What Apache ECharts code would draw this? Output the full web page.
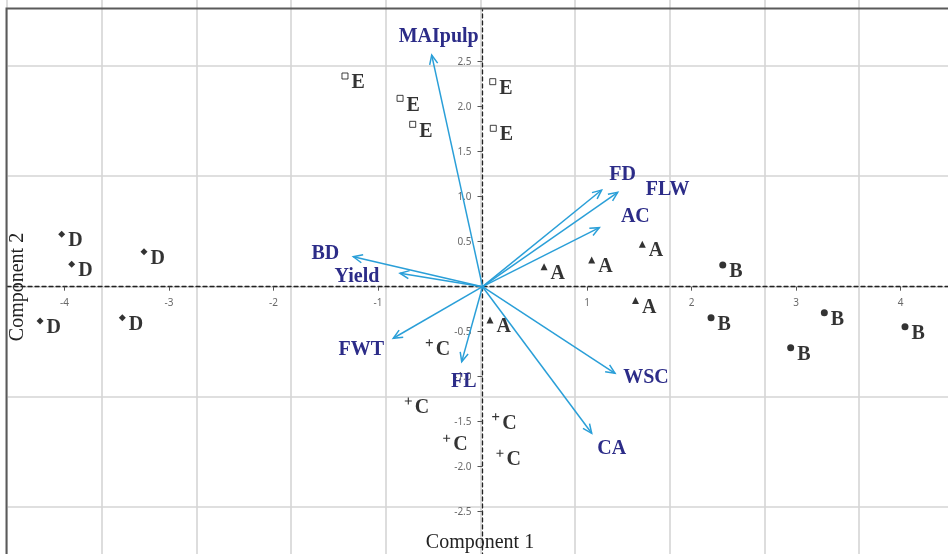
<!DOCTYPE html>
<html>
<head>
<meta charset="utf-8">
<script src="https://cdn.jsdelivr.net/npm/echarts@6/dist/echarts.min.js"></script>
<style>
  html, body { margin: 0; padding: 0; background: #ffffff; }
  #chart { width: 948px; height: 554px; }
</style>
</head>
<body>
<div id="chart"></div>
<script>
// PCA scores per group: [Component 1, Component 2]
const scoresA = [[0.589, 0.222], [1.045, 0.297], [1.529, 0.471], [0.072, -0.370], [1.464, -0.153]];
const scoresB = [[2.299, 0.241], [2.187, -0.344], [3.271, -0.289], [2.949, -0.678], [4.043, -0.444]];
const scoresC = [[-0.509, -0.622], [-0.710, -1.270], [0.126, -1.444], [-0.343, -1.684], [0.167, -1.851]];
const scoresD = [[-4.027, 0.582], [-3.931, 0.249], [-3.239, 0.389], [-4.234, -0.381], [-3.447, -0.344]];
const scoresE = [[-1.316, 2.341], [-0.789, 2.093], [-0.668, 1.804], [0.098, 2.278], [0.103, 1.760]];

// Variable loadings (arrow tips)
const loadingNames = ['MAIpulp', 'BD', 'Yield', 'FD', 'FLW', 'AC', 'FWT', 'FL', 'WSC', 'CA'];
const loadingX = [-0.486, -1.236, -0.790, 1.140, 1.294, 1.118, -0.854, -0.199, 1.268, 1.045];
const loadingY = [2.574, 0.333, 0.150, 1.074, 1.049, 0.656, -0.573, -0.833, -0.962, -1.629];

// Tick values shown on the zero-crossing axes
const xTicks = [-4, -3, -2, -1, 1, 2, 3, 4];
const yTicks = [-2.5, -2, -1.5, -1, -0.5, 0.5, 1, 1.5, 2, 2.5];

// ---- styling ----
const ARROW_COLOR = '#2a9fd8';
const VAR_COLOR = '#2c2c88';
const SERIF = '"Liberation Serif", "DejaVu Serif", serif';
const TICK_FONT = '"Noto Sans", "DejaVu Sans", sans-serif';

// where each variable name sits relative to its arrow tip (px)
const varLabelOffset = {
  MAIpulp: [7, -18], BD: [-28, -3], Yield: [-43, 4], FD: [21, -15], FLW: [50, -2],
  AC: [36, -11], FWT: [-32, 12], FL: [2, 20], WSC: [31, 5], CA: [20, 16]
};

const loadingData = loadingNames.map((n, i) => [loadingX[i], loadingY[i]]);

function renderLoading(params, api) {
  const name = loadingNames[params.dataIndex];
  const o = api.coord([0, 0]);
  const t = api.coord([api.value(0), api.value(1)]);
  const ang = Math.atan2(t[1] - o[1], t[0] - o[0]);
  const L = 10, a = 0.42;
  const h1 = [t[0] - L * Math.cos(ang - a), t[1] - L * Math.sin(ang - a)];
  const h2 = [t[0] - L * Math.cos(ang + a), t[1] - L * Math.sin(ang + a)];
  const off = varLabelOffset[name];
  return {
    type: 'group',
    children: [
      { type: 'line', shape: { x1: o[0], y1: o[1], x2: t[0], y2: t[1] },
        style: { stroke: ARROW_COLOR, lineWidth: 1.5 } },
      { type: 'polyline', shape: { points: [h1, t, h2] },
        style: { stroke: ARROW_COLOR, lineWidth: 1.5, fill: null } },
      { type: 'text', x: t[0] + off[0], y: t[1] + off[1],
        style: { text: name, fill: VAR_COLOR, font: 'bold 20px ' + SERIF,
                 align: 'center', verticalAlign: 'middle',
                 textAlign: 'center', textVerticalAlign: 'middle' } }
    ]
  };
}

const plusPath = 'path://M4.2,0H5.8V4.2H10V5.8H5.8V10H4.2V5.8H0V4.2H4.2Z';

function groupSeries(letter, data, symbol, size, itemStyle) {
  return {
    type: 'scatter', name: letter, xAxisIndex: 1, yAxisIndex: 1,
    data: data, symbol: symbol, symbolSize: size,
    itemStyle: itemStyle || { color: '#000' },
    label: {
      show: true, formatter: letter, position: 'right', distance: 3, offset: [0, 7],
      color: '#000', fontFamily: SERIF, fontWeight: 'bold', fontSize: 20
    },
    emphasis: { disabled: true },
    z: 4
  };
}

// tick labels sitting beside the dashed zero axes
function tickLabelSeries(data, labelOpt) {
  return {
    type: 'scatter', xAxisIndex: 1, yAxisIndex: 1, silent: true,
    data: data, symbolSize: 0.01, itemStyle: { color: 'rgba(0,0,0,0)' },
    label: Object.assign({ show: true, fontSize: 10, color: '#444', fontFamily: TICK_FONT }, labelOpt),
    emphasis: { disabled: true }, z: 2
  };
}

const chart = echarts.init(document.getElementById('chart'), null, { renderer: 'canvas' });

chart.setOption({
  animation: false,
  backgroundColor: '#ffffff',
  grid: [
    // background reference grid
    { left: 7, top: -44.5, width: 946.6, height: 661.5, containLabel: false, outerBoundsMode: 'none' },
    // biplot coordinate system
    { left: 7.03, top: 9.5, width: 950.95, height: 554.4, containLabel: false, outerBoundsMode: 'none' }
  ],
  xAxis: [
    { type: 'value', gridIndex: 0, min: 0, max: 10, interval: 1,
      axisLine: { show: false }, axisTick: { show: false }, axisLabel: { show: false },
      splitLine: { show: true, lineStyle: { color: '#d5d5d5', width: 1.6 } } },
    { type: 'value', gridIndex: 1, min: -4.55, max: 4.55,
      axisLine: { show: true, onZero: true, lineStyle: { color: '#222', width: 1.3, type: [4, 3] } },
      axisTick: { show: true, customValues: xTicks, length: 4, lineStyle: { color: '#555', width: 1 } },
      axisLabel: { show: false },
      splitLine: { show: false } }
  ],
  yAxis: [
    { type: 'value', gridIndex: 0, min: 0, max: 6, interval: 1,
      axisLine: { show: false }, axisTick: { show: false }, axisLabel: { show: false },
      splitLine: { show: true, lineStyle: { color: '#d5d5d5', width: 1.6 } } },
    { type: 'value', gridIndex: 1, min: -3.08, max: 3.08,
      axisLine: { show: true, onZero: true, lineStyle: { color: '#222', width: 1.3, type: [4, 3] } },
      axisTick: { show: true, customValues: yTicks, length: 5, lineStyle: { color: '#555', width: 1 } },
      axisLabel: { show: false },
      splitLine: { show: false } }
  ],
  series: [
    tickLabelSeries(xTicks.map(v => [v, 0]), {
      position: 'inside', offset: [0, 16], align: 'center', verticalAlign: 'middle',
      formatter: p => String(p.value[0])
    }),
    tickLabelSeries(yTicks.map(v => [0, v]), {
      position: 'left', distance: 11, align: 'right', verticalAlign: 'middle',
      formatter: p => p.value[1].toFixed(1)
    }),
    {
      type: 'custom', name: 'loadings', xAxisIndex: 1, yAxisIndex: 1,
      data: loadingData, encode: { x: 0, y: 1 },
      renderItem: renderLoading, silent: true, z: 3
    },
    groupSeries('A', scoresA, 'triangle', 7),
    groupSeries('B', scoresB, 'circle', 7),
    groupSeries('C', scoresC, plusPath, 7),
    groupSeries('D', scoresD, 'diamond', 7),
    groupSeries('E', scoresE, 'rect', 6, { color: '#fff', borderColor: '#111', borderWidth: 1 })
  ],
  graphic: [
    // plot frame
    { type: 'polyline', z: 100, silent: true,
      shape: { points: [[6.5, 600], [6.5, 8.5], [960, 8.5]] },
      style: { stroke: '#5a5a5a', lineWidth: 2, fill: null } },
    { type: 'text', z: 100, x: 480, y: 543, silent: true,
      style: { text: 'Component 1', font: '20px ' + SERIF, fill: '#222',
               align: 'center', verticalAlign: 'middle', textAlign: 'center', textVerticalAlign: 'middle' } },
    { type: 'text', z: 100, x: 18, y: 287, rotation: Math.PI / 2, silent: true,
      style: { text: 'Component 2', font: '20px ' + SERIF, fill: '#222',
               align: 'center', verticalAlign: 'middle', textAlign: 'center', textVerticalAlign: 'middle' } }
  ]
});
</script>
</body>
</html>
